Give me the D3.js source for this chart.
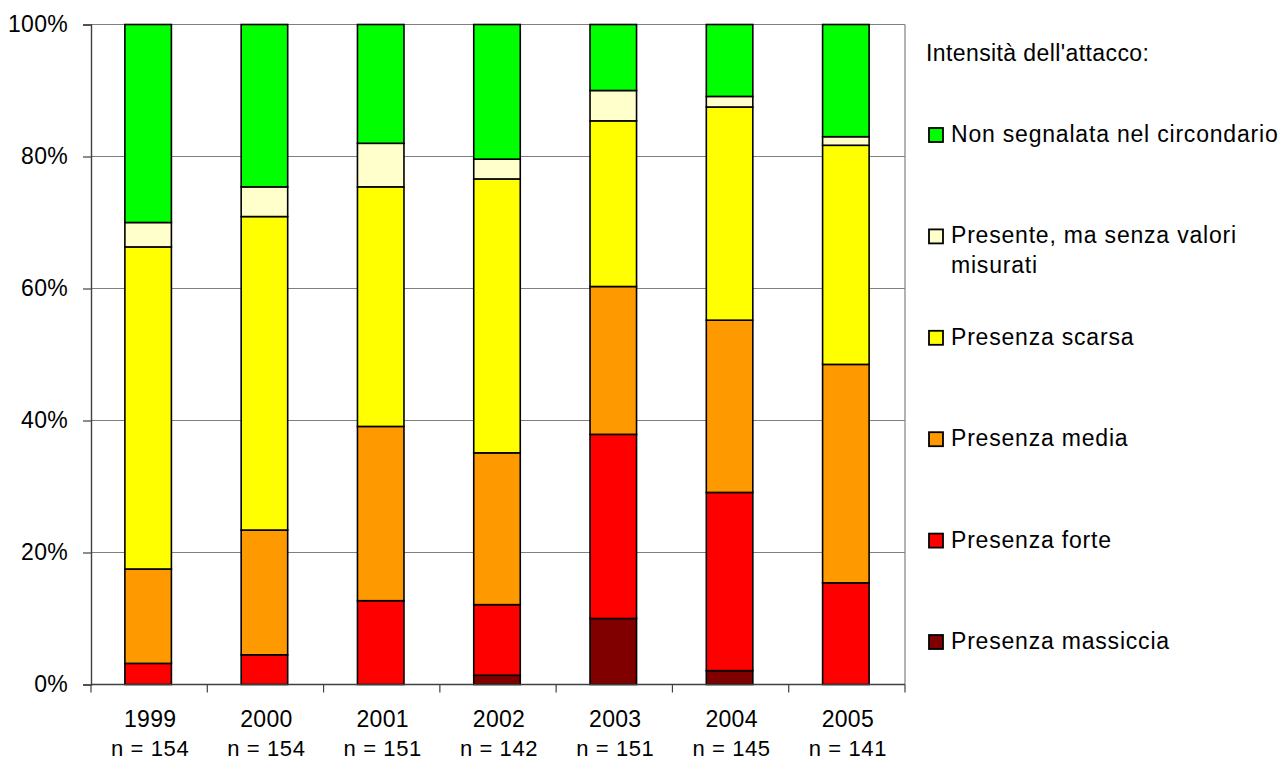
<!DOCTYPE html>
<html>
<head>
<meta charset="utf-8">
<script src="https://cdn.jsdelivr.net/npm/d3@7"></script>
<style>
  html, body { margin: 0; padding: 0; background: #fff; }
  svg { display: block; font-family: "Liberation Sans", Arial, sans-serif; }
</style>
</head>
<body>
<svg id="chart" width="1283" height="762"></svg>
<script>
// Years surveyed and number of reports per year
const years = ["1999", "2000", "2001", "2002", "2003", "2004", "2005"];
const sampleSizes = [154, 154, 151, 142, 151, 145, 141];

// Attack intensity classes, bottom to top of each stack
const seriesKeys = ["massiccia", "forte", "media", "scarsa", "presente", "non"];
const seriesLabels = [
  "Presenza massiccia",
  "Presenza forte",
  "Presenza media",
  "Presenza scarsa",
  "Presente, ma senza valori|misurati",
  "Non segnalata nel circondario"
];
const seriesColors = ["#800000", "#FF0000", "#FF9900", "#FFFF00", "#FFFFCC", "#00FF00"];

// Share of reports (%) per class and year
const massiccia = [0.0, 0.0, 0.0, 1.4, 10.0, 2.1, 0.0];
const forte     = [3.2, 4.5, 12.7, 10.7, 27.9, 27.0, 15.4];
const media     = [14.3, 18.9, 26.4, 23.0, 22.4, 26.1, 33.1];
const scarsa    = [48.8, 47.5, 36.3, 41.5, 25.1, 32.3, 33.2];
const presente  = [3.7, 4.5, 6.6, 3.0, 4.6, 1.6, 1.3];
const nonSegn   = [30.0, 24.6, 18.0, 20.4, 10.0, 10.9, 17.0];

const yTicks = [0, 20, 40, 60, 80, 100];
const legendTitle = "Intensità dell'attacco:";

const table = years.map((yr, i) => ({
  year: yr,
  massiccia: massiccia[i],
  forte: forte[i],
  media: media[i],
  scarsa: scarsa[i],
  presente: presente[i],
  non: nonSegn[i]
}));

const svg = d3.select("#chart");
const plot = { left: 91, right: 905, top: 24.5, bottom: 684.5 };

const x = d3.scaleBand()
  .domain(years)
  .range([plot.left, plot.right])
  .paddingInner(0.6)
  .paddingOuter(0.3);

const y = d3.scaleLinear()
  .domain([0, 100])
  .range([plot.bottom, plot.top]);

const color = d3.scaleOrdinal().domain(seriesKeys).range(seriesColors);

// Horizontal gridlines
svg.append("g")
  .selectAll("line")
  .data(yTicks.filter(t => t > 0))
  .join("line")
  .attr("x1", plot.left).attr("x2", plot.right)
  .attr("y1", d => y(d)).attr("y2", d => y(d))
  .attr("stroke", "#808080").attr("stroke-width", 1.2);

// Right border of the plot area
svg.append("line")
  .attr("x1", plot.right).attr("x2", plot.right)
  .attr("y1", plot.top).attr("y2", plot.bottom)
  .attr("stroke", "#808080").attr("stroke-width", 1.2);

// Stacked bars
const stacked = d3.stack().keys(seriesKeys)(table);
svg.append("g")
  .selectAll("g")
  .data(stacked)
  .join("g")
  .attr("fill", d => color(d.key))
  .selectAll("rect")
  .data(d => d)
  .join("rect")
  .filter(d => d[1] - d[0] > 0)
  .attr("x", d => x(d.data.year) - 1)
  .attr("width", x.bandwidth())
  .attr("y", d => y(d[1]))
  .attr("height", d => y(d[0]) - y(d[1]))
  .attr("stroke", "#000")
  .attr("stroke-width", 1.6);

// Y axis
const yAxis = svg.append("g")
  .attr("transform", `translate(${plot.left},0)`)
  .call(d3.axisLeft(y)
    .tickValues(yTicks)
    .tickSize(8)
    .tickPadding(15)
    .tickFormat(d => d + "%"));
yAxis.select(".domain").attr("stroke", "#404040").attr("stroke-width", 1.4);
yAxis.selectAll(".tick line").attr("stroke", "#404040").attr("stroke-width", 1.2);
yAxis.selectAll(".tick text")
  .attr("font-size", 23)
  .attr("font-family", "Liberation Sans, Arial, sans-serif")
  .attr("letter-spacing", 0.3)
  .attr("fill", "#000");

// X axis baseline with ticks between categories
const xAxisG = svg.append("g");
xAxisG.append("line")
  .attr("x1", plot.left).attr("x2", plot.right)
  .attr("y1", plot.bottom).attr("y2", plot.bottom)
  .attr("stroke", "#404040").attr("stroke-width", 1.4);
const boundaries = years.map(yr => x(yr) - x.step() * x.paddingInner() / 2)
  .concat([plot.right]);
xAxisG.selectAll("line.tick")
  .data(boundaries)
  .join("line")
  .attr("class", "tick")
  .attr("x1", d => d).attr("x2", d => d)
  .attr("y1", plot.bottom).attr("y2", plot.bottom + 8)
  .attr("stroke", "#404040").attr("stroke-width", 1.2);

// Category labels: year and sample size
const labels = xAxisG.selectAll("g.lab")
  .data(years)
  .join("g")
  .attr("class", "lab")
  .attr("transform", d => `translate(${x(d) + x.bandwidth() / 2 + 1},0)`);
labels.append("text")
  .attr("y", 727)
  .attr("text-anchor", "middle")
  .attr("font-size", 23)
  .attr("letter-spacing", 0.3)
  .text(d => d);
labels.append("text")
  .attr("y", 756)
  .attr("text-anchor", "middle")
  .attr("font-size", 22)
  .attr("letter-spacing", 0.6)
  .text((d, i) => "n = " + sampleSizes[i]);

// Legend, listed top to bottom from the top series down
const legend = svg.append("g");
legend.append("text")
  .attr("x", 926).attr("y", 61)
  .attr("font-size", 23)
  .attr("letter-spacing", 0.4)
  .text(legendTitle);

const legendRows = seriesKeys.map((k, i) => ({ key: k, label: seriesLabels[i] })).reverse();
const rowBaseline = d3.scaleLinear().domain([0, 5]).range([142, 649]);
const item = legend.selectAll("g.item")
  .data(legendRows)
  .join("g")
  .attr("class", "item")
  .attr("transform", (d, i) => `translate(0,${rowBaseline(i)})`);
item.append("rect")
  .attr("x", 929).attr("y", -14)
  .attr("width", 14).attr("height", 14)
  .attr("fill", d => color(d.key))
  .attr("stroke", "#000").attr("stroke-width", 1.8);
item.append("text")
  .attr("x", 951)
  .attr("font-size", 23)
  .attr("letter-spacing", 0.8)
  .each(function (d) {
    const lines = d.label.split("|");
    d3.select(this).selectAll("tspan")
      .data(lines)
      .join("tspan")
      .attr("x", 951)
      .attr("dy", (l, j) => j === 0 ? 0 : 30)
      .text(l => l);
  });
</script>
</body>
</html>
